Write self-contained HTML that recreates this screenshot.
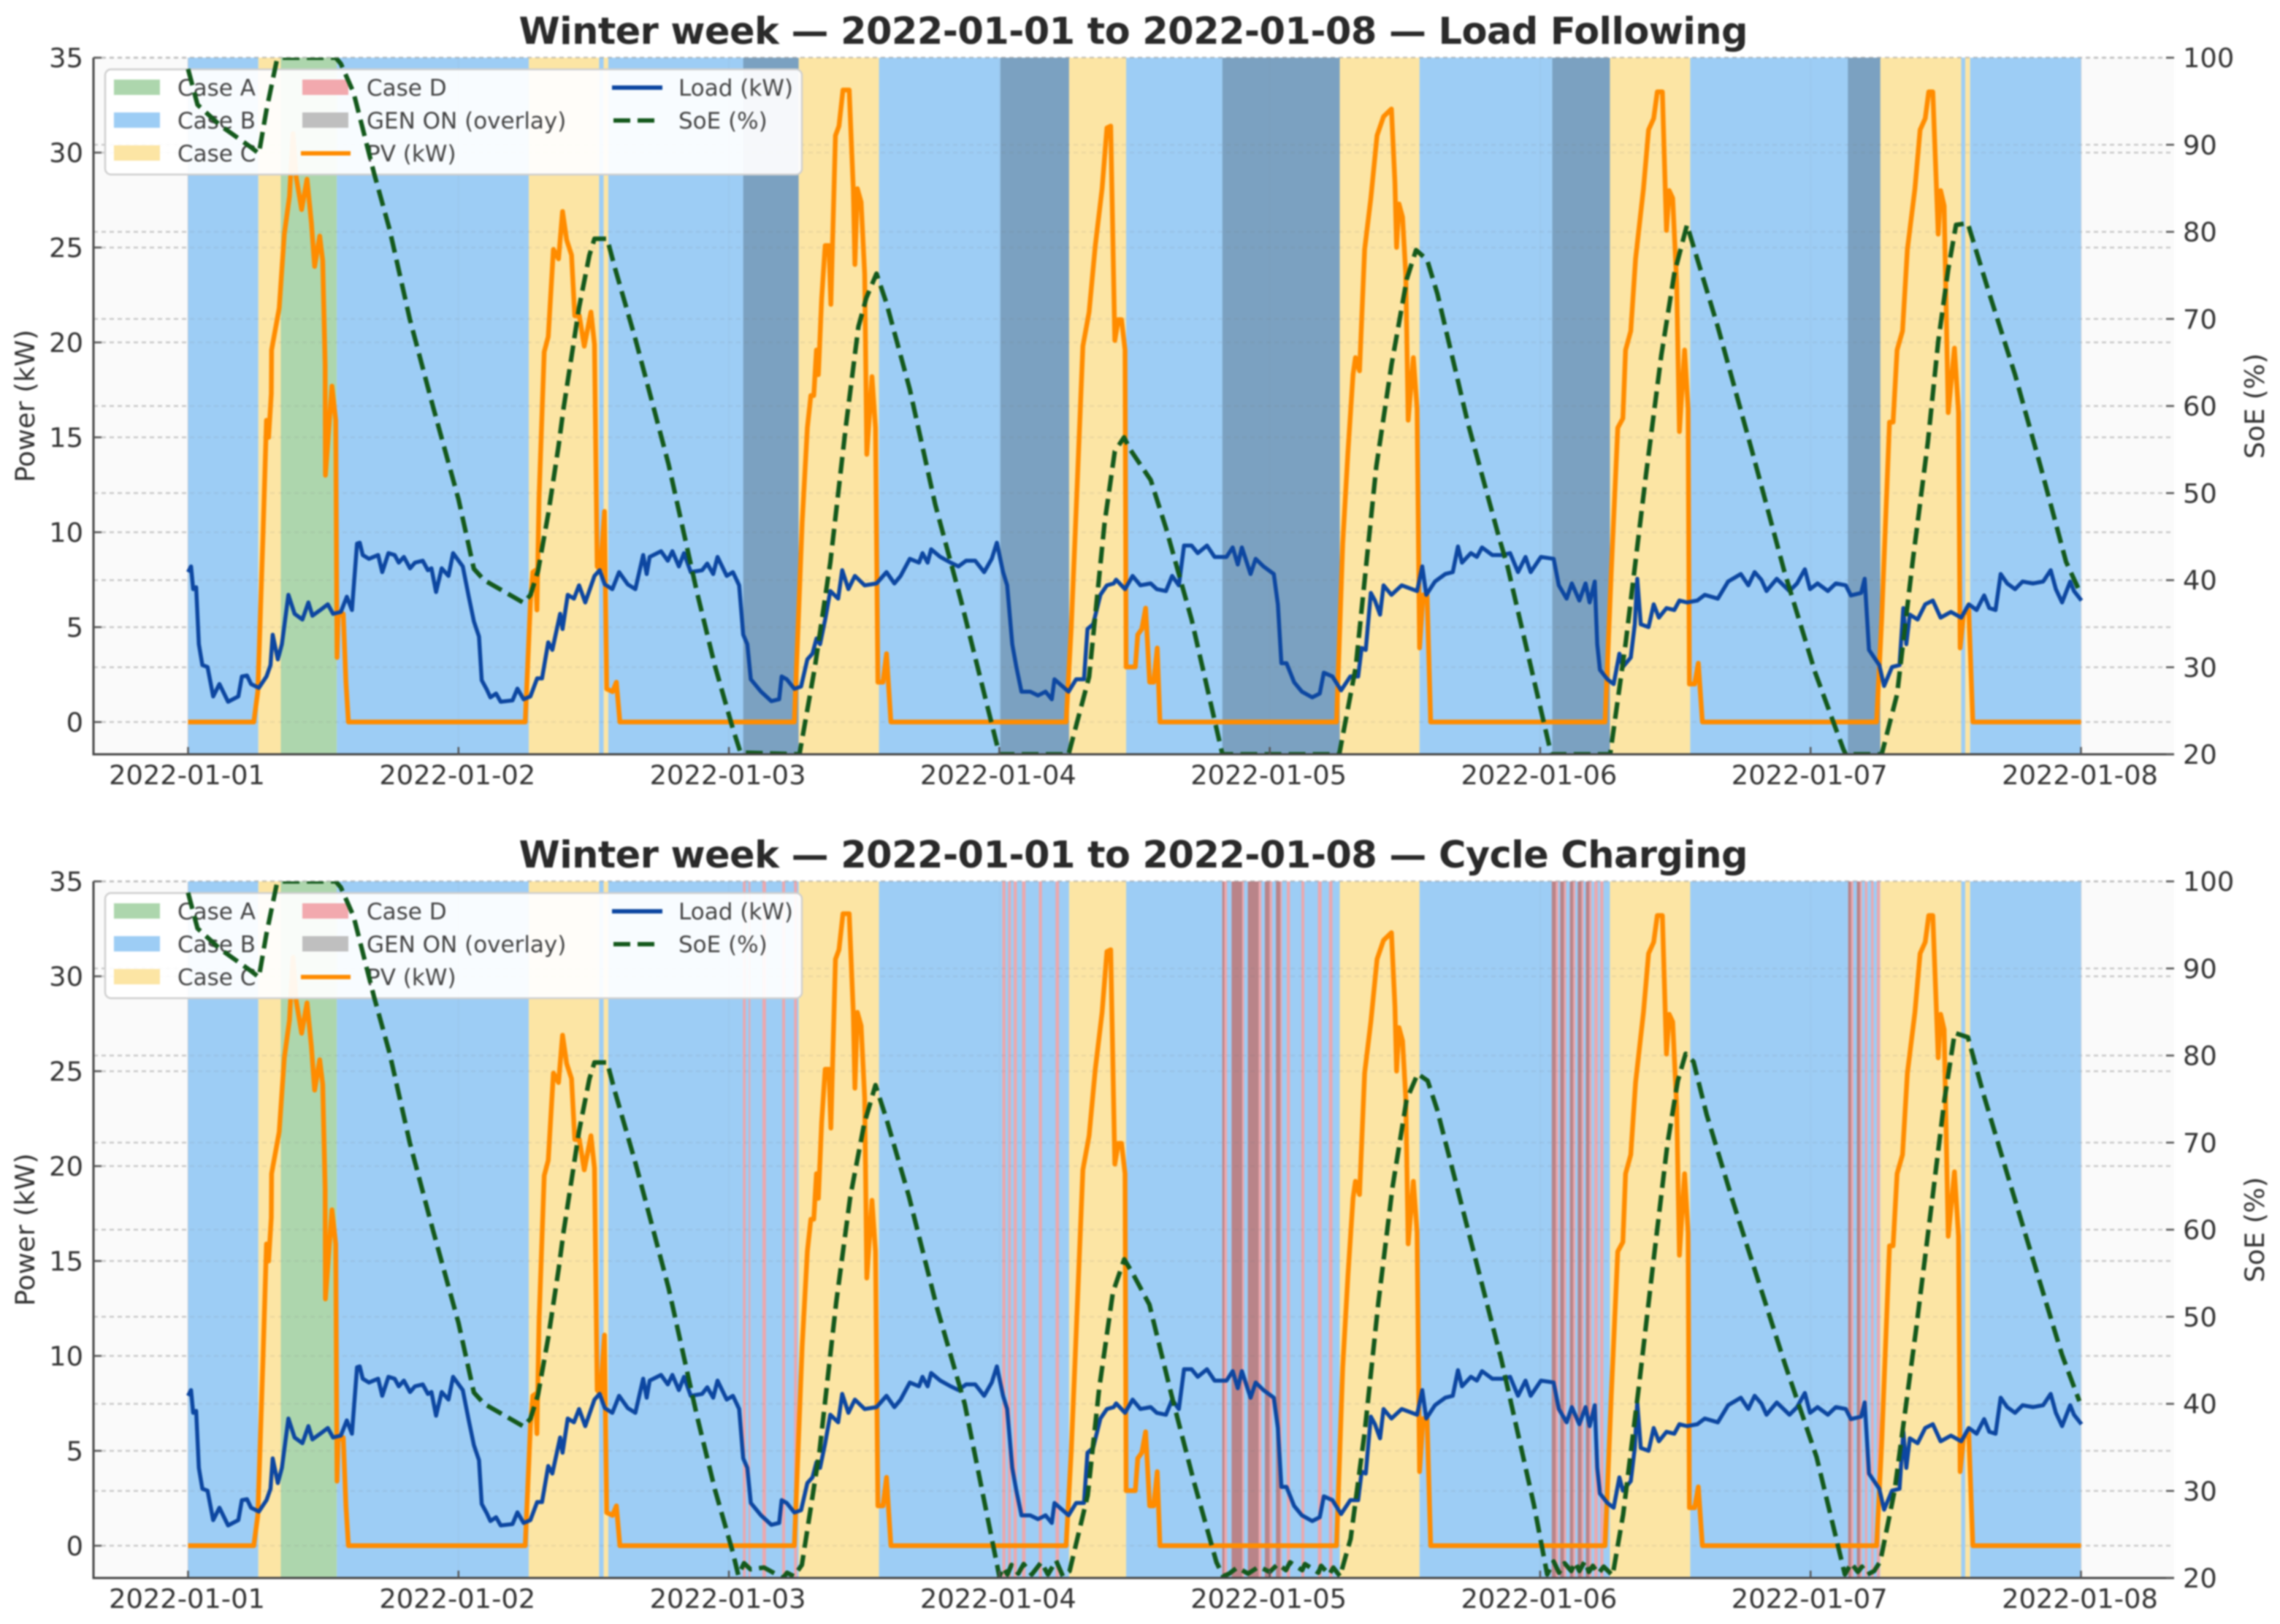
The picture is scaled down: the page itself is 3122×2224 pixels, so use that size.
<!DOCTYPE html>
<html lang="en">
<head>
<meta charset="utf-8">
<title>Winter week dispatch comparison</title>
<style>
html,body{margin:0;padding:0;background:#fff;width:3122px;height:2224px;overflow:hidden}
svg{display:block;filter:blur(1px)}
text{font-family:"DejaVu Sans","Liberation Sans",sans-serif;fill:#333}
.lg{font-size:31px;fill:#444}
.ax{font-size:36.8px;fill:#333}
.ti{font-size:51px;font-weight:bold;fill:#2a2a2a}
</style>
</head>
<body>
<svg id="chart" xmlns="http://www.w3.org/2000/svg" width="3122" height="2224" viewBox="0 0 3122 2224">
<defs><clipPath id="plot-clip"><rect x="128" y="79" width="2849" height="954"/></clipPath></defs>
<rect width="3122" height="2224" fill="#fff"/>

<g id="panel-lf">
  <g class="under"></g>
  <g>
    <rect x="144" y="95" width="954" height="144" rx="8" fill="#fff" fill-opacity=".93" stroke="#cfcfcf" stroke-width="2.5"/>
    <rect x="156" y="109" width="63" height="21" fill="#add6ad"/>
    <rect x="156" y="154" width="63" height="21" fill="#9dcdf5"/>
    <rect x="156" y="199" width="63" height="21" fill="#fce5a4"/>
    <rect x="414" y="109" width="63" height="21" fill="#f2a9ae"/>
    <rect x="414" y="154" width="63" height="21" fill="#bfbfbf"/>
    <line x1="412" x2="480" y1="210" y2="210" stroke="#ff8c00" stroke-width="6"/>
    <line x1="838" x2="907" y1="120" y2="120" stroke="#0d47a1" stroke-width="6"/>
    <line x1="840" x2="905" y1="165" y2="165" stroke="#14591c" stroke-width="6" stroke-dasharray="23 10"/>
    <text class="lg" x="243" y="131">Case A</text>
    <text class="lg" x="243" y="176">Case B</text>
    <text class="lg" x="243" y="221">Case C</text>
    <text class="lg" x="502" y="131">Case D</text>
    <text class="lg" x="502" y="176">GEN ON (overlay)</text>
    <text class="lg" x="502" y="221">PV (kW)</text>
    <text class="lg" x="929" y="131">Load (kW)</text>
    <text class="lg" x="929" y="176">SoE (%)</text>
  </g>
  <g class="over"></g>
  <text class="ti" x="1552" y="60" text-anchor="middle" textLength="1683">Winter week — 2022-01-01 to 2022-01-08 — Load Following</text>
  <text class="ax" transform="translate(47,556) rotate(-90)" text-anchor="middle">Power (kW)</text>
  <text class="ax" transform="translate(3100,556) rotate(-90)" text-anchor="middle">SoE (%)</text>
</g>

<g id="panel-cc" transform="translate(0,1128)">
  <g class="under"></g>
  <g>
    <rect x="144" y="95" width="954" height="144" rx="8" fill="#fff" fill-opacity=".93" stroke="#cfcfcf" stroke-width="2.5"/>
    <rect x="156" y="109" width="63" height="21" fill="#add6ad"/>
    <rect x="156" y="154" width="63" height="21" fill="#9dcdf5"/>
    <rect x="156" y="199" width="63" height="21" fill="#fce5a4"/>
    <rect x="414" y="109" width="63" height="21" fill="#f2a9ae"/>
    <rect x="414" y="154" width="63" height="21" fill="#bfbfbf"/>
    <line x1="412" x2="480" y1="210" y2="210" stroke="#ff8c00" stroke-width="6"/>
    <line x1="838" x2="907" y1="120" y2="120" stroke="#0d47a1" stroke-width="6"/>
    <line x1="840" x2="905" y1="165" y2="165" stroke="#14591c" stroke-width="6" stroke-dasharray="23 10"/>
    <text class="lg" x="243" y="131">Case A</text>
    <text class="lg" x="243" y="176">Case B</text>
    <text class="lg" x="243" y="221">Case C</text>
    <text class="lg" x="502" y="131">Case D</text>
    <text class="lg" x="502" y="176">GEN ON (overlay)</text>
    <text class="lg" x="502" y="221">PV (kW)</text>
    <text class="lg" x="929" y="131">Load (kW)</text>
    <text class="lg" x="929" y="176">SoE (%)</text>
  </g>
  <g class="over"></g>
  <text class="ti" x="1552" y="60" text-anchor="middle" textLength="1683">Winter week — 2022-01-01 to 2022-01-08 — Cycle Charging</text>
  <text class="ax" transform="translate(47,556) rotate(-90)" text-anchor="middle">Power (kW)</text>
  <text class="ax" transform="translate(3100,556) rotate(-90)" text-anchor="middle">SoE (%)</text>
</g>
</svg>

<script>
// ---- chart data (time in days since 2022-01-01) ----
const dateTickLabels = ['2022-01-01','2022-01-02','2022-01-03','2022-01-04','2022-01-05','2022-01-06','2022-01-07','2022-01-08'];
const dateTickDays = [0,1,2,3,4,5,6,7];
const powerTicks = [0,5,10,15,20,25,30,35];
const soeTicks = [20,30,40,50,60,70,80,90,100];

const caseSpanStart = [0,.26,.343,.55,1.26,1.52,1.537,1.554,2.258,2.555,3.258,3.469,4.259,4.554,5.258,5.555,6.258,6.557,6.572,6.59];
const caseSpanEnd = [.26,.343,.55,1.26,1.52,1.537,1.554,2.258,2.555,3.258,3.469,4.259,4.554,5.258,5.555,6.258,6.557,6.572,6.59,7];
const caseSpanType = ['B','C','A','B','C','B','C','B','C','B','C','B','C','B','C','B','C','B','C','B'];

const genStartLf = [2.053,3.004,3.825,5.045,6.138];
const genEndLf = [2.258,3.258,4.259,5.258,6.258];

const caseDStartCc = [2.052,2.073,2.124,2.197,2.241,3.011,3.032,3.053,3.084,3.146,3.208,3.824,3.859,3.919,3.982,4.023,4.063,4.117,4.178,4.219,5.043,5.074,5.11,5.139,5.169,5.2,5.222,6.139,6.171,6.201,6.224,6.245];
const caseDEndCc = [2.062,2.079,2.137,2.208,2.252,3.023,3.043,3.065,3.097,3.158,3.221,3.842,3.905,3.969,4.009,4.045,4.075,4.128,4.192,4.232,5.067,5.096,5.13,5.16,5.19,5.213,5.234,6.158,6.19,6.21,6.233,6.256];
const genStartCc = [3.825,3.859,3.919,3.982,4.023,5.043,5.074,5.11,5.139,5.169,6.139,6.171];
const genEndCc = [3.832,3.898,3.959,3.999,4.039,5.058,5.088,5.122,5.153,5.182,6.15,6.183];

const pvDays = [0,.243,.258,.277,.29,.298,.308,.309,.337,.356,.375,.388,.4,.42,.44,.456,.468,.487,.498,.507,.508,.532,.546,.551,.555,.574,.584,.593,
1.247,1.266,1.275,1.285,1.29,1.298,1.317,1.332,1.351,1.37,1.385,1.4,1.418,1.43,1.447,1.465,1.49,1.503,1.513,1.525,1.54,1.548,1.57,1.584,1.597,
2.242,2.271,2.29,2.303,2.314,2.324,2.331,2.343,2.356,2.37,2.377,2.394,2.407,2.422,2.445,2.46,2.466,2.475,2.489,2.502,2.51,2.529,2.542,2.551,2.57,2.583,2.599,
3.247,3.266,3.279,3.309,3.332,3.355,3.38,3.398,3.412,3.427,3.44,3.452,3.465,3.469,3.503,3.512,3.527,3.541,3.556,3.571,3.584,3.594,
4.247,4.27,4.289,4.308,4.317,4.332,4.351,4.374,4.397,4.421,4.45,4.463,4.469,4.478,4.491,4.503,4.512,4.531,4.545,4.554,4.567,4.582,4.595,
5.24,5.263,5.287,5.306,5.316,5.335,5.353,5.382,5.401,5.42,5.433,5.452,5.467,5.477,5.49,5.505,5.515,5.534,5.547,5.552,5.571,5.585,5.6,
6.244,6.263,6.292,6.305,6.32,6.34,6.358,6.386,6.405,6.424,6.437,6.452,6.472,6.481,6.494,6.509,6.532,6.547,6.553,6.566,6.585,6.6,7];
const pvKw = [0,0,1.6,9.8,15.9,15,17.3,19.6,21.8,25.7,27.7,31,28.7,27,28.6,26.3,24,25.6,24.3,18.8,13,17.7,15.9,3.4,5.6,5.7,2.1,0,
0,6.3,7.9,8,5.9,11.8,19.5,20.3,24.9,24.4,26.9,25.4,24.6,21.4,21.4,19.8,21.6,19.9,8.2,8,11.1,1.75,1.6,2.1,0,
0,10.5,15.5,17.2,17.2,19.6,18.3,22.3,25.1,25.1,22,30.9,31.4,33.3,33.3,28.1,24.1,28.1,27.4,23.6,14.1,18.2,15.5,2.1,2.1,3.6,0,
0,5,9.4,19.8,21.6,25.1,28.1,31.3,31.4,20.1,21.2,21.2,19.6,2.9,2.9,4.6,4.9,6,2.1,2.1,3.9,0,
0,9.4,14.2,18.3,19.2,18.5,24.9,27.6,30.9,31.9,32.3,28.4,25,27.3,26.6,23.6,15.9,19.2,16.5,3.9,6.7,6.7,0,
0,7.9,15.5,16,19.6,20.6,24.4,28.1,31.2,31.8,33.2,33.2,25.9,28,27.6,23.1,15.3,19.6,16.5,2,2,3.1,0,
0,5.4,15.8,15.8,19.6,20.6,24.9,28.1,31.2,31.8,33.2,33.2,25.7,28,27.2,16.3,19.7,16.3,3.9,5.7,5.9,0,0];

const loadDays = [0,.011,.019,.03,.04,.053,.072,.093,.116,.148,.186,.199,.218,.233,.262,.29,.305,.313,.332,.347,.371,.394,.423,.445,.46,.489,.517,.536,.565,.587,.606,.625,.635,.646,.669,.703,.718,.741,.764,.779,.798,.821,.839,.868,.887,.9,.917,.938,.963,.98,
1.016,1.038,1.057,1.076,1.086,1.105,1.118,1.139,1.156,1.2,1.218,1.241,1.266,1.291,1.309,1.332,1.347,1.376,1.385,1.404,1.427,1.446,1.469,1.503,1.522,1.541,1.569,1.594,1.626,1.654,1.683,1.696,1.707,1.749,1.774,1.791,1.815,1.834,1.859,1.901,1.92,1.942,1.958,1.992,
2.015,2.038,2.053,2.068,2.081,2.119,2.157,2.186,2.195,2.214,2.242,2.267,2.29,2.309,2.324,2.337,2.356,2.375,2.404,2.419,2.442,2.466,2.502,2.546,2.583,2.612,2.635,2.669,2.703,2.716,2.735,2.748,2.782,2.82,2.849,2.877,2.911,2.944,2.972,2.991,
3.014,3.029,3.048,3.063,3.082,3.114,3.143,3.171,3.194,3.204,3.256,3.284,3.313,3.326,3.347,3.374,3.398,3.423,3.432,3.465,3.493,3.522,3.56,3.582,3.616,3.639,3.664,3.683,3.711,3.734,3.768,3.796,3.84,3.863,3.882,3.897,3.929,3.948,3.977,
4.015,4.03,4.043,4.062,4.09,4.119,4.157,4.185,4.2,4.232,4.264,4.298,4.327,4.34,4.355,4.374,4.389,4.408,4.421,4.45,4.488,4.526,4.545,4.564,4.579,4.611,4.649,4.677,4.696,4.711,4.744,4.766,4.785,4.823,4.861,4.889,4.918,4.946,4.965,
5.003,5.05,5.069,5.098,5.117,5.145,5.168,5.183,5.202,5.211,5.221,5.249,5.272,5.293,5.306,5.335,5.35,5.359,5.372,5.401,5.42,5.439,5.467,5.496,5.515,5.543,5.581,5.609,5.657,5.695,5.742,5.77,5.793,5.818,5.837,5.875,5.922,5.95,5.979,5.998,
6.026,6.064,6.093,6.13,6.149,6.187,6.2,6.216,6.254,6.272,6.301,6.329,6.343,6.354,6.367,6.396,6.424,6.452,6.481,6.519,6.557,6.585,6.614,6.642,6.661,6.684,6.703,6.727,6.756,6.784,6.822,6.86,6.888,6.907,6.93,6.96,6.974,7.002];
const loadKw = [7.9,8.2,7,7.1,4.1,3,2.9,1.35,2,1.07,1.35,2.4,2.45,2,1.8,2.4,3,4.6,3.3,4.1,6.7,5.7,5.4,6.3,5.6,5.9,6.2,5.7,5.8,6.6,5.9,9.4,9.45,8.8,8.6,8.8,7.9,8.9,8.8,8.4,8.7,8.1,8.4,8.5,8,8.1,6.85,8.1,7.7,8.9,
8.2,6.6,5.3,4.5,2.2,1.7,1.3,1.5,1.07,1.14,1.76,1.2,1.35,2.3,2.3,4.2,3.8,5.7,4.9,6.7,6.5,7.2,6.3,7.7,8,7.25,7,7.9,7.25,7,8.8,7.8,8.7,9,8.5,9,8.2,8.9,7.9,8,8.35,7.8,8.7,7.7,
7.9,7.2,4.6,4.1,2.25,1.6,1.1,1.2,2.4,2.25,1.75,1.87,3.3,3.6,4.4,4.1,5.4,6.9,6.5,8,7,7.7,7.2,7.3,7.9,7.3,7.7,8.6,8.4,8.9,8.4,9.1,8.7,8.4,8.2,8.5,8.5,7.9,8.6,9.45,
7.9,7.2,4.1,2.9,1.6,1.6,1.4,1.6,1.2,2.25,1.6,2.25,2.25,4.9,5.15,6.7,7.2,7.3,7.5,7,7.7,7.2,7.3,7,6.9,7.7,7.2,9.3,9.3,8.9,9.3,8.7,8.7,9.2,8.3,9.2,7.8,8.6,8.2,
7.8,6.2,3.1,3.1,2.1,1.6,1.3,1.5,2.6,2.4,1.67,2.4,2.4,3.9,3.8,6.8,6.4,5.66,7.2,6.7,7.2,7,6.9,8.2,6.7,7.4,7.8,7.9,9.25,8.4,8.9,8.7,9.2,8.8,8.8,8.9,7.9,8.7,7.9,
8.7,8.6,7.2,6.5,7.3,6.4,7.3,6.3,7.4,4.1,2.75,2.25,2,3.6,2.9,3.4,5.15,7.55,5.15,5,6.2,5.5,6,5.9,6.4,6.3,6.4,6.7,6.5,7.4,7.8,7.2,7.9,7.5,6.9,7.55,6.9,7.3,8.05,7,
7.3,6.9,7.3,7.2,6.67,6.8,7.55,3.8,3,1.9,2.9,3,6,4.1,5.66,5.4,6.2,6.4,5.5,5.8,5.5,6.2,5.9,6.67,6,5.9,7.8,7.3,7,7.4,7.3,7.4,8,7,6.3,7.4,6.9,6.4];

const soeDaysLf = [0,.035,.12,.233,.262,.29,.328,.347,.546,.565,.612,.688,.745,.82,.906,1,1.057,1.095,1.241,1.266,1.294,1.332,1.37,1.389,1.446,1.484,1.503,1.55,1.579,1.654,1.72,1.777,1.882,1.948,2.014,2.043,
2.261,2.318,2.375,2.432,2.479,2.508,2.546,2.583,2.669,2.763,2.858,3,3.256,3.332,3.389,3.427,3.461,3.484,3.56,3.616,3.711,3.825,
4.257,4.318,4.394,4.45,4.507,4.541,4.582,4.62,4.733,4.847,4.88,5.041,5.259,5.316,5.391,5.448,5.496,5.543,5.657,5.789,5.903,6.017,6.121,6.13,
6.263,6.32,6.377,6.434,6.472,6.509,6.538,6.581,6.661,6.756,6.85,6.945,6.998];
const soePctLf = [98.7,94.6,92.2,89.7,89,94,99.7,100,100,99.3,96,86.7,80.3,70,59.9,49.3,41.3,40,37.4,38.3,41,47.6,55.4,59.8,71.3,77.3,79.2,79.2,75.8,67.7,60,53.3,38.6,30.2,23,20.2,
20,30,42,57.5,69.1,72.4,75.2,71.8,61.9,48.7,37.7,20,20,28.9,46.5,54.8,56.4,55,51.5,46,35.5,20,
20,30,53,64.7,74.6,77.9,76.8,72.9,58,45,41.5,20,20,32.7,52,65.8,75.2,80.8,69.1,54.2,41,29.4,20.6,20,
20,26.9,42,55.9,67.4,75.7,80.8,81,72.9,63.6,53.1,42.1,38.5];

const soeDaysCc = [0,.035,.12,.233,.262,.29,.328,.347,.546,.565,.612,.688,.745,.82,.906,1,1.057,1.095,1.241,1.266,1.294,1.332,1.37,1.389,1.446,1.484,1.503,1.55,1.579,1.654,1.72,1.777,1.882,1.948,2.014,
2.035,2.056,2.08,2.13,2.2,2.215,2.24,2.27,
2.335,2.397,2.449,2.5,2.542,2.583,2.666,2.769,2.872,
3,3.015,3.03,3.045,3.07,3.09,3.12,3.155,3.18,3.21,3.235,3.26,
3.327,3.369,3.42,3.462,3.493,3.555,3.637,3.72,3.803,
3.828,3.85,3.88,3.92,3.96,4,4.03,4.06,4.075,4.12,4.13,4.18,4.19,4.22,4.235,4.26,
4.299,4.351,4.402,4.454,4.506,4.547,4.584,4.619,4.733,4.857,4.977,
5.026,5.05,5.07,5.09,5.115,5.13,5.145,5.165,5.18,5.195,5.215,5.235,5.268,
5.307,5.364,5.422,5.471,5.509,5.538,5.567,5.616,5.712,5.809,5.906,6.022,
6.127,6.15,6.175,6.19,6.21,6.235,6.258,
6.311,6.389,6.447,6.495,6.533,6.582,6.64,6.736,6.833,6.93,6.994];
const soePctCc = [98.7,94.6,92.2,89.7,89,94,99.7,100,100,99.3,96,86.7,80.3,70,59.9,49.3,41.3,40,37.4,38.3,41,47.6,55.4,59.8,71.3,77.3,79.2,79.2,75.8,67.7,60,53.3,38.6,30.2,23,
20.3,21.7,21,21.2,20,20.6,20.2,21.5,
34.5,51.7,63.8,72.1,76.6,72.7,63.8,51.1,40,
20.2,21.2,20.4,21.5,20.5,21.6,20.4,21.8,20.4,22,20.2,20.8,
29.5,41.7,52.8,56.6,55,51.4,41,31,21.8,
20.2,20.5,21.2,20.5,21.3,20.7,21.6,20.9,21.8,20.9,21.6,20.6,21.4,20.4,21.2,20.2,
24.5,36.7,51.7,64.9,74.9,77.9,77.1,73.8,60,45,28.4,
20.4,21.9,20.6,21.7,20.8,21.8,20.8,21.9,20.7,21.4,20.5,21.3,20.3,
27.3,41.7,57.2,69.9,77.1,80.2,79.3,73.2,63.3,53.9,44.5,33.9,
20.4,21.7,20.7,21.3,20.4,20.8,21.9,
30.1,48.3,62.7,74.9,82.6,82.1,75.5,65.5,55.5,45.6,40.3];

// ---- axis functions ----
const SVG_NS = 'http://www.w3.org/2000/svg';
const plotLeft = 128, plotRight = 2977, plotTop = 79, plotBottom = 1033;
function xScale(day){ return 257.5 + day * (2849.5 - 257.5) / 7; }
function yPower(kw){ return plotBottom - (kw + 1.7) * (plotBottom - plotTop) / 36.7; }
function ySoe(pct){ return plotBottom - (pct - 20) * (plotBottom - plotTop) / 80; }

function make(parent, tag, attrs){
  const el = document.createElementNS(SVG_NS, tag);
  for (const k in attrs) el.setAttribute(k, attrs[k]);
  parent.appendChild(el);
  return el;
}
function linePath(days, vals, yFn){
  let d = '';
  for (let i = 0; i < days.length; i++) d += (i ? 'L' : 'M') + xScale(days[i]).toFixed(1) + ' ' + yFn(vals[i]).toFixed(1);
  return d;
}
const caseColors = {A:'#add6ad', B:'#9dcdf5', C:'#fce5a4'};

function drawGrid(g, color, opacity, kind){
  powerTicks.forEach(function(v){
    const el = make(g, 'line', {x1:plotLeft, x2:plotRight, y1:yPower(v), y2:yPower(v), stroke:color, 'stroke-opacity':opacity, 'stroke-width':2.5, 'stroke-dasharray':'6 5'});
    
    
  });
  soeTicks.forEach(function(v){
    const el = make(g, 'line', {x1:plotLeft, x2:plotRight, y1:ySoe(v), y2:ySoe(v), stroke:color, 'stroke-opacity':opacity, 'stroke-width':2.5, 'stroke-dasharray':'6 5'});
    
    
  });
  dateTickDays.forEach(function(v){
    const el = make(g, 'line', {x1:xScale(v), x2:xScale(v), y1:plotTop, y2:plotBottom, stroke:color, 'stroke-opacity':opacity * 0.5, 'stroke-width':2});
    
    
  });
}

function drawPanel(panelId, soeDays, soePct, genStart, genEnd, caseDStart, caseDEnd){
  const panel = document.getElementById(panelId);
  const under = panel.querySelector('.under');
  const over = panel.querySelector('.over');

  const bg = make(under, 'rect', {x:plotLeft, y:plotTop, width:plotRight - plotLeft, height:plotBottom - plotTop, fill:'#fafafa'});
  
  
  drawGrid(under, '#d4d4d4', 1, 'base');

  caseSpanStart.forEach(function(s, i){
    const el = make(under, 'rect', {x:xScale(s), y:plotTop, width:xScale(caseSpanEnd[i]) - xScale(s), height:plotBottom - plotTop, fill:caseColors[caseSpanType[i]]});
    
    
  });
  caseDStart.forEach(function(s, i){
    const el = make(under, 'rect', {x:xScale(s), y:plotTop, width:xScale(caseDEnd[i]) - xScale(s), height:plotBottom - plotTop, fill:'#eba8ae'});
    
    
  });
  genStart.forEach(function(s, i){
    const el = make(under, 'rect', {x:xScale(s), y:plotTop, width:xScale(genEnd[i]) - xScale(s), height:plotBottom - plotTop, fill:'#000', 'fill-opacity':0.21});
    
    
  });
  drawGrid(under, '#777', 0.11, 'overlay');

  const pv = make(under, 'path', {d:linePath(pvDays, pvKw, yPower), fill:'none', stroke:'#ff8c00', 'stroke-width':6.5, 'stroke-linejoin':'round', 'clip-path':'url(#plot-clip)'});
  
  
  const load = make(under, 'path', {d:linePath(loadDays, loadKw, yPower), fill:'none', stroke:'#0d47a1', 'stroke-width':5.5, 'stroke-linejoin':'round', 'clip-path':'url(#plot-clip)'});
  
  

  const soe = make(over, 'path', {d:linePath(soeDays, soePct, ySoe), fill:'none', stroke:'#14591c', 'stroke-width':6.2, 'stroke-dasharray':'23 10', 'stroke-linejoin':'round', 'clip-path':'url(#plot-clip)'});
  
  

  const spineL = make(over, 'line', {x1:plotLeft, x2:plotLeft, y1:plotTop, y2:plotBottom + 1.5, stroke:'#444', 'stroke-width':3});
  
  
  const spineB = make(over, 'line', {x1:plotLeft, x2:plotRight, y1:plotBottom, y2:plotBottom, stroke:'#444', 'stroke-width':3});
  
  

  powerTicks.forEach(function(v){
    const t = make(over, 'line', {x1:plotLeft, x2:plotLeft + 11, y1:yPower(v), y2:yPower(v), stroke:'#555', 'stroke-width':2.5});
    
    
    const l = make(over, 'text', {class:'ax', x:114, y:yPower(v) + 13, 'text-anchor':'end'});
    l.textContent = String(v);
    
    
  });
  soeTicks.forEach(function(v){
    const t = make(over, 'line', {x1:plotRight - 11, x2:plotRight, y1:ySoe(v), y2:ySoe(v), stroke:'#555', 'stroke-width':2.5});
    
    
    const l = make(over, 'text', {class:'ax', x:2989, y:ySoe(v) + 13});
    l.textContent = String(v);
    
    
  });
  dateTickDays.forEach(function(v, i){
    const t = make(over, 'line', {x1:xScale(v), x2:xScale(v), y1:plotBottom - 10, y2:plotBottom, stroke:'#555', 'stroke-width':2.5});
    
    
    const l = make(over, 'text', {class:'ax', x:xScale(v) - 1.5, y:1074, 'text-anchor':'middle'});
    l.textContent = dateTickLabels[i];
    
    
  });
}

drawPanel('panel-lf', soeDaysLf, soePctLf, genStartLf, genEndLf, [], []);
drawPanel('panel-cc', soeDaysCc, soePctCc, genStartCc, genEndCc, caseDStartCc, caseDEndCc);
</script>
</body>
</html>
